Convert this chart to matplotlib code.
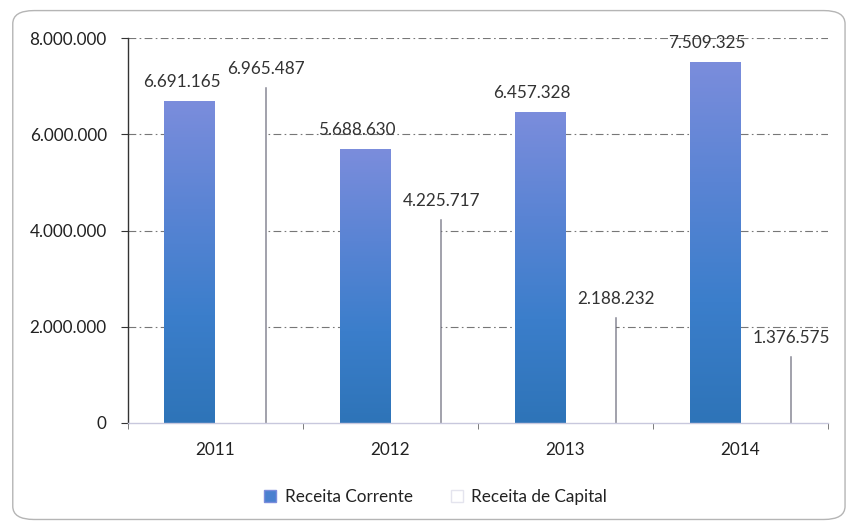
import numpy as np
import matplotlib.pyplot as plt
from matplotlib.patches import FancyBboxPatch, Patch
from matplotlib.colors import LinearSegmentedColormap

years = ["2011", "2012", "2013", "2014"]
receita_corrente = [6691165, 5688630, 6457328, 7509325]
receita_capital = [6965487, 4225717, 2188232, 1376575]
y_ticks = [0, 2000000, 4000000, 6000000, 8000000]


def fmt_br(v):
    return f"{v:,.0f}".replace(",", ".")


plt.rcParams["font.family"] = ["Lato", "DejaVu Sans"]
FS = 12.3
TXT = "#222222"

fig = plt.figure(figsize=(8.51, 5.29), dpi=100)
fig.patch.set_facecolor("white")

# rounded frame around the chart area
frame = FancyBboxPatch((0.015, 0.018), 0.978, 0.962,
                       boxstyle="round,pad=0,rounding_size=0.025",
                       transform=fig.transFigure, facecolor="none",
                       edgecolor="#b5b5b5", linewidth=1.0)
fig.patches.append(frame)

ax = fig.add_axes([0.150, 0.2004, 0.823, 0.7276])
x = np.arange(len(years))
w = 0.29

# gridlines
for t in y_ticks[1:]:
    ax.axhline(t, color="#4a4a4a", lw=0.8, alpha=0.75,
               linestyle=(0, (7, 3, 1.5, 3)), zorder=1)

# blue bars with a vertical gradient
cmap = LinearSegmentedColormap.from_list(
    "rc", ["#2e74b8", "#3b7ecb", "#5a84d4", "#7b8ddc"])
grad = np.linspace(0, 1, 256).reshape(-1, 1)
bars_c = ax.bar(x - w / 2, receita_corrente, width=w, color="#4a80cf",
                edgecolor="none", zorder=2)
for b in bars_c:
    x0, y0 = b.get_x(), b.get_y()
    im = ax.imshow(grad, cmap=cmap, origin="lower", aspect="auto",
                   extent=[x0, x0 + b.get_width(), y0, y0 + b.get_height()],
                   zorder=2.1)
    im.set_clip_path(b)

# white bars: only the right edge stands out
bars_k = ax.bar(x + w / 2, receita_capital, width=w, color="white",
                edgecolor="none", zorder=2)
for b in bars_k:
    xr = b.get_x() + b.get_width()
    ax.plot([xr, xr], [0, b.get_height()], color="#6a6a7a", lw=1.1,
            alpha=0.8, zorder=2.5)

ax.set_xlim(-0.5, len(years) - 0.5)
ax.set_ylim(0, 8000000)

# value labels
for b, v in zip(bars_c, receita_corrente):
    ax.annotate(fmt_br(v), (b.get_x() + b.get_width() / 2, v),
                xytext=(-6, 8), textcoords="offset points",
                ha="center", va="bottom", fontsize=FS, color="#333333",
                zorder=5)
for b, v in zip(bars_k, receita_capital):
    ax.annotate(fmt_br(v), (b.get_x() + b.get_width(), v),
                xytext=(0, 8), textcoords="offset points",
                ha="center", va="bottom", fontsize=FS, color="#333333",
                zorder=5)

# axes styling
for s in ["top", "right"]:
    ax.spines[s].set_visible(False)
ax.spines["left"].set_color("#333333")
ax.spines["left"].set_linewidth(1.0)
ax.spines["bottom"].set_color("#c8c8dd")
ax.spines["bottom"].set_linewidth(1.0)

ax.set_yticks(y_ticks)
ax.set_yticklabels([fmt_br(t) for t in y_ticks], fontsize=FS, color=TXT)
ax.set_xticks(x)
ax.set_xticklabels(years, fontsize=FS, color=TXT)
ax.tick_params(axis="y", direction="out", length=5, color="#333333",
               pad=10)
ax.tick_params(axis="x", length=0, pad=14)
ax.set_xticks(np.arange(-0.5, len(years)), minor=True)
ax.tick_params(axis="x", which="minor", direction="out", length=4,
               color="#666666")
ax.set_facecolor("none")

handles = [Patch(facecolor="#4a80cf", edgecolor="#7b8ddc"),
           Patch(facecolor="white", edgecolor="#e4e4ee")]
fig.legend(handles, ["Receita Corrente", "Receita de Capital"],
           loc="center", bbox_to_anchor=(0.512, 0.060), ncol=2,
           frameon=False, fontsize=FS, handlelength=0.7,
           handleheight=0.7, handletextpad=0.5, columnspacing=2.2,
           labelcolor=TXT)

fig.savefig("out.png", dpi=100, facecolor="white")
